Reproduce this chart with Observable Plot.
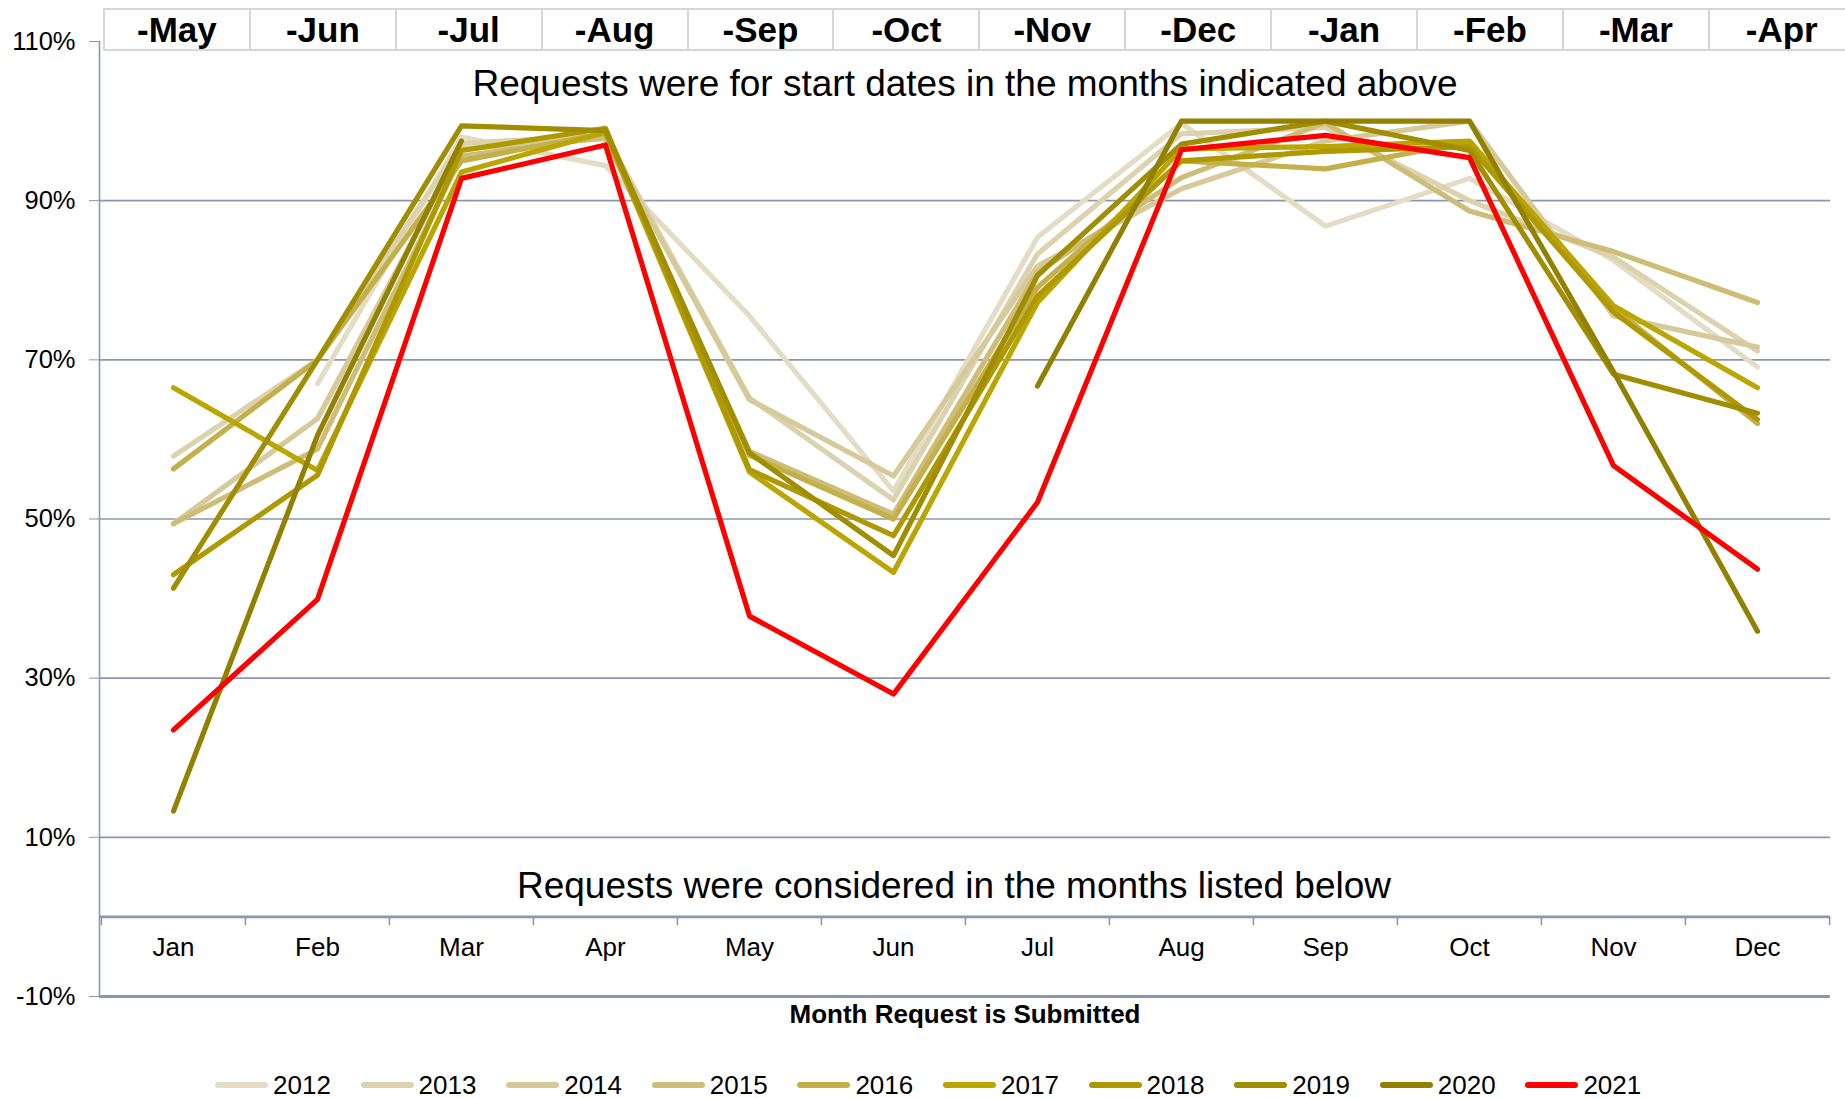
<!DOCTYPE html>
<html><head><meta charset="utf-8">
<script src="https://cdn.jsdelivr.net/npm/d3@7"></script>
<script src="https://cdn.jsdelivr.net/npm/@observablehq/plot@0.6"></script>
<style>
body{margin:0;background:#fff;font-family:"Liberation Sans",Arial,sans-serif;}
#wrap{position:relative;width:1845px;height:1098px;overflow:hidden;background:#fff;}
#chart{position:absolute;left:0;top:0;}
#chart g[aria-label="line"]{stroke-width:5.2px;stroke-linecap:round;stroke-linejoin:round;}
#header{position:absolute;left:103px;top:8px;display:flex;}
.hcell{box-sizing:border-box;width:145.9px;height:43px;border:2.5px solid #d6d6d6;border-right:none;font-weight:bold;font-size:35px;display:flex;align-items:center;justify-content:center;background:#fff;color:#000;}
.litem{position:absolute;top:1068px;height:34px;display:flex;align-items:center;}
.sw{width:53px;height:6px;border-radius:3px;margin-right:5px;}
.lt{font-size:26px;color:#000;}
</style>
</head><body>
<div id="wrap"><div id="chart"></div><div id="header"></div></div>
<script>
const months = ["Jan","Feb","Mar","Apr","May","Jun","Jul","Aug","Sep","Oct","Nov","Dec"];
const startLabels = ["-May","-Jun","-Jul","-Aug","-Sep","-Oct","-Nov","-Dec","-Jan","-Feb","-Mar","-Apr"];
const years = ["2012","2013","2014","2015","2016","2017","2018","2019","2020","2021"];
const colors = ["#e5dcc5","#ddd2ae","#d6ca9a","#cdbd76","#c4b04a","#bba500","#ae9900","#a08d00","#928000","#ff0000"];
const yTicks = [-10,10,30,50,70,90,110];
const gridValues = [10,30,50,70,90];
const baseValues = [0,-10];

const v2012 = [null,67.0,98.0,94.4,75.5,53.5,85.4,99.7,86.8,92.8,82.5,69.1];
const v2013 = [57.9,70.0,97.2,98.2,65.2,52.4,83.3,98.4,99.2,90.0,82.9,71.1];
const v2014 = [49.4,62.6,96.5,97.8,65.0,55.4,81.8,91.5,97.5,100,75.5,71.6];
const v2015 = [49.4,58.8,95.6,98.0,58.5,50.6,81.0,92.9,99.8,88.7,83.6,77.2];
const v2016 = [56.3,70.0,95.0,98.5,58.0,50.0,79.1,95.0,94.0,97.4,76.5,62.0];
const v2017 = [66.5,56.1,93.6,98.6,55.9,43.3,77.2,96.5,96.8,97.5,76.8,66.5];
const v2018 = [43.0,55.5,96.3,99.1,56.2,47.9,78.0,95.0,96.2,96.8,76.0,62.5];
const v2019 = [41.3,70.0,99.4,98.8,58.3,45.4,80.6,97.1,100,96.3,68.2,63.3];
const v2020 = [13.3,60.5,97.5,null,null,null,66.7,100,100,100,68.5,35.9];
const v2021 = [23.5,39.9,92.8,97.0,37.8,28.0,52.1,96.4,98.2,95.4,56.7,43.7];
const seriesValues = [v2012,v2013,v2014,v2015,v2016,v2017,v2018,v2019,v2020,v2021];

const topText = "Requests were for start dates in the months indicated above";
const bottomText = "Requests were considered in the months listed below";
const xTitle = "Month Request is Submitted";

const rows = [];
years.forEach((yr, k) => seriesValues[k].forEach((v, i) => rows.push({year: yr, month: months[i], value: v})));

const W = 1845, H = 1060, ML = 99, MR = 15, MT = 41, MB = 64;
const step = (W - ML - MR) / months.length;
const gridColor = "#8a97b2";

const chart = Plot.plot({
  width: W, height: H,
  marginLeft: ML, marginRight: MR, marginTop: MT, marginBottom: MB,
  style: {fontFamily: "'Liberation Sans', Arial, sans-serif", background: "transparent", overflow: "visible"},
  x: {type: "point", domain: months, padding: 0.5, axis: null},
  y: {domain: [-10, 110]},
  color: {domain: years, range: colors},
  marks: [
    Plot.ruleY(gridValues, {stroke: gridColor, strokeWidth: 1.6}),
    Plot.ruleY(baseValues, {stroke: gridColor, strokeWidth: 2.8}),
    Plot.frame({anchor: "left", stroke: gridColor, strokeWidth: 1.6}),
    Plot.axisY({ticks: yTicks, tickSize: 10, tickPadding: 14, tickFormat: d => d + "%", stroke: gridColor, fill: "#000", fontSize: 25.5, label: null}),
    Plot.ruleX(months, {x: d => d, y1: 0, y2: -1.1, dx: -step / 2, stroke: gridColor, strokeWidth: 1.6}),
    Plot.ruleX([months[months.length - 1]], {x: d => d, y1: 0, y2: -1.1, dx: step / 2, stroke: gridColor, strokeWidth: 1.6}),
    Plot.text(months, {x: d => d, y: -3.9, text: d => d, fontSize: 26, fill: "#000"}),
    Plot.line(rows, {x: "month", y: "value", z: "year", stroke: "year", strokeWidth: 5.2, strokeLinecap: "round", strokeLinejoin: "round"}),
    Plot.text([topText], {frameAnchor: "top", lineAnchor: "middle", dy: 42.5, text: d => d, fontSize: 37, fill: "#000"}),
    Plot.text([bottomText], {frameAnchor: "top", lineAnchor: "middle", dy: 845, dx: -11, text: d => d, fontSize: 37, fill: "#000"}),
    Plot.text([xTitle], {frameAnchor: "bottom", lineAnchor: "middle", dy: 18, text: d => d, fontSize: 26, fontWeight: "bold", fill: "#000"})
  ]
});
document.getElementById("chart").appendChild(chart);

const header = document.getElementById("header");
startLabels.forEach(l => {
  const c = document.createElement("div");
  c.className = "hcell"; c.textContent = l; header.appendChild(c);
});

const wrap = document.getElementById("wrap");
years.forEach((yr, i) => {
  const it = document.createElement("div");
  it.className = "litem";
  it.style.left = (215 + i * 145.6) + "px";
  const sw = document.createElement("div"); sw.className = "sw"; sw.style.background = colors[i];
  const t = document.createElement("span"); t.className = "lt"; t.textContent = yr;
  it.appendChild(sw); it.appendChild(t); wrap.appendChild(it);
});
</script>
</body></html>
